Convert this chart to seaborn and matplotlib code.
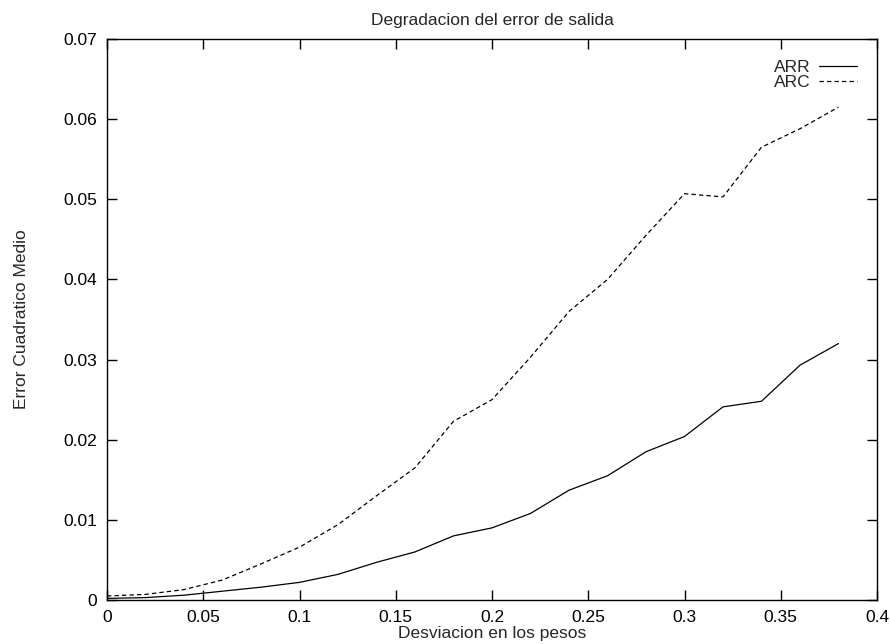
import matplotlib
matplotlib.use("Agg")
import matplotlib.pyplot as plt
import seaborn as sns
import pandas as pd

# Desviacion en los pesos (weight deviation)
desviacion = [0.00, 0.02, 0.04, 0.06, 0.08, 0.10, 0.12, 0.14, 0.16, 0.18,
              0.20, 0.22, 0.24, 0.26, 0.28, 0.30, 0.32, 0.34, 0.36, 0.38]

# Error cuadratico medio for each architecture
error_arr = [0.0002, 0.0003, 0.0006, 0.0011, 0.0016, 0.0022, 0.0032, 0.0047, 0.0060, 0.0080,
             0.0090, 0.0108, 0.0137, 0.0155, 0.0185, 0.0204, 0.0241, 0.0248, 0.0293, 0.0320]
error_arc = [0.0005, 0.0007, 0.0013, 0.0025, 0.0045, 0.0066, 0.0094, 0.0130, 0.0165, 0.0223,
             0.0250, 0.0303, 0.0360, 0.0400, 0.0455, 0.0507, 0.0503, 0.0565, 0.0588, 0.0615]

series_names = ["ARR", "ARC"]

x_ticks = [0, 0.05, 0.1, 0.15, 0.2, 0.25, 0.3, 0.35, 0.4]
x_tick_labels = ["0", "0.05", "0.1", "0.15", "0.2", "0.25", "0.3", "0.35", "0.4"]
y_ticks = [0, 0.01, 0.02, 0.03, 0.04, 0.05, 0.06, 0.07]
y_tick_labels = ["0", "0.01", "0.02", "0.03", "0.04", "0.05", "0.06", "0.07"]

df = pd.DataFrame({
    "x": desviacion * 2,
    "y": error_arr + error_arc,
    "serie": [series_names[0]] * len(desviacion) + [series_names[1]] * len(desviacion),
})

FS = 12.5

sns.set_theme(style="white")
plt.rcParams["font.family"] = ["Liberation Sans", "DejaVu Sans"]
plt.rcParams["font.size"] = FS

fig = plt.figure(figsize=(8.9, 6.44), dpi=100)
ax = fig.add_axes([107 / 890, 44 / 644, (877 - 107) / 890, (600 - 39) / 644])

sns.lineplot(data=df, x="x", y="y", hue="serie", style="serie",
             palette={"ARR": "black", "ARC": "black"},
             dashes={"ARR": "", "ARC": (3.5, 2.5)},
             linewidth=0.9, ax=ax, legend=True)

ax.set_xlim(0, 0.4)
ax.set_ylim(0, 0.07)
ax.set_xticks(x_ticks)
ax.set_xticklabels(x_tick_labels, fontsize=FS)
ax.set_yticks(y_ticks)
ax.set_yticklabels(y_tick_labels, fontsize=FS)
ax.tick_params(direction="in", length=7, width=1, top=True, right=True,
               bottom=True, left=True, colors="black", pad=7)
for side in ax.spines.values():
    side.set_color("black")
    side.set_linewidth(1.0)

ax.set_title("Degradacion del error de salida", fontsize=FS, pad=10)
ax.set_xlabel("Desviacion en los pesos", fontsize=FS, labelpad=1)
ax.set_ylabel("Error Cuadratico Medio", fontsize=FS, labelpad=25)

handles, labels = ax.get_legend_handles_labels()
leg = ax.legend(handles, labels, loc="upper right", frameon=False,
                markerfirst=False, handlelength=2.2, handletextpad=0.5,
                labelspacing=0.0, fontsize=FS,
                bbox_to_anchor=(0.99, 0.985), borderaxespad=0.3)
for line in leg.get_lines():
    line.set_linewidth(0.9)

fig.savefig("out.png", dpi=100, facecolor="white")
